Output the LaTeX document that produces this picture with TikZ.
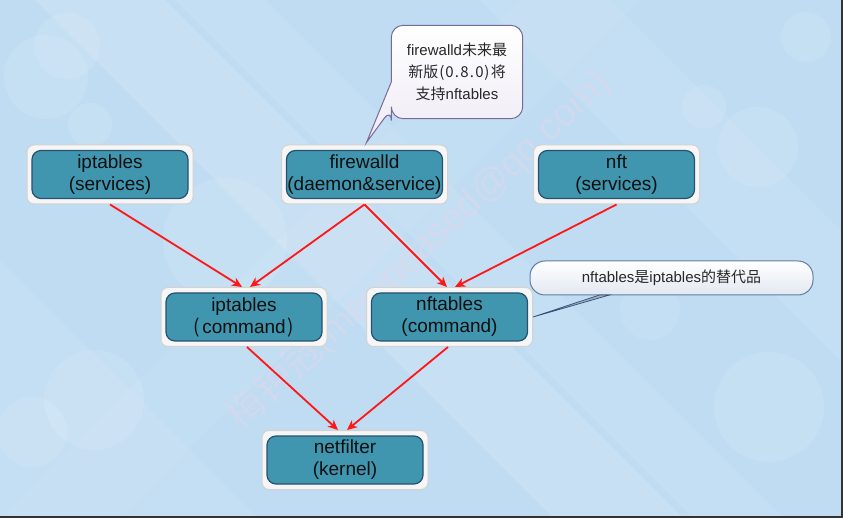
\documentclass[tikz,border=0pt]{standalone}
\usepackage{fontspec}
\setmainfont{Liberation Sans}
\newfontfamily\cjk{Noto Sans CJK SC}
\usetikzlibrary{arrows.meta}
\definecolor{bgblue}{RGB}{191,220,242}
\definecolor{tealfill}{RGB}{64,150,175}
\definecolor{tealline}{RGB}{42,80,112}
\definecolor{framefill}{RGB}{246,246,246}
\definecolor{frameline}{RGB}{210,210,210}
\definecolor{arrred}{RGB}{255,22,22}
\definecolor{notelineA}{RGB}{122,106,152}
\definecolor{notefillA}{RGB}{238,234,245}
\definecolor{notelineB}{RGB}{98,126,162}
\definecolor{notefillB}{RGB}{226,232,241}
\definecolor{ptrB}{RGB}{48,78,120}
\definecolor{wmark}{RGB}{240,212,230}
\definecolor{boxtext}{RGB}{15,15,15}
\definecolor{notetext}{RGB}{40,40,40}
\newcommand\hw[1]{\makebox[0.5em]{#1}}
\begin{document}
\begin{tikzpicture}[x=1pt,y=-1pt,
  frame/.style={draw=frameline, fill=framefill, line width=1pt, rounded corners=7pt,
    minimum width=166pt, minimum height=59pt, inner sep=0pt},
  box/.style={draw=tealline, fill=tealfill, line width=1.2pt, rounded corners=9pt,
    minimum width=156pt, minimum height=48pt, inner sep=0pt, align=center,
    font=\fontsize{19}{22}\selectfont, text=boxtext},
  arr/.style={draw=arrred, line width=1.8pt, -{Stealth[length=10pt,width=9pt,inset=3pt]}},
  notetxt/.style={align=center, inner sep=0pt, text=notetext,
    font=\fontsize{15}{22}\selectfont}
]
\useasboundingbox (0,0) rectangle (843,518);
% background
\fill[bgblue] (0,0) rectangle (843,518);
\begin{scope}[white]
  \fill[opacity=0.14] (35,0) -- (165,0) -- (683,518) -- (553,518) -- cycle;
  \fill[opacity=0.08] (175,0) -- (265,0) -- (783,518) -- (693,518) -- cycle;
  \fill[opacity=0.08] (480,0) -- (610,0) -- (843,233) -- (843,363) -- cycle;
  \fill[opacity=0.08] (0,260) -- (0,518) -- (258,518) -- cycle;
  \fill[opacity=0.06] (0,518) -- (120,518) -- (640,0) -- (520,0) -- cycle;
  \fill[opacity=0.10] (67,46) circle (33);
  \fill[opacity=0.10] (46,77) circle (42);
  \fill[opacity=0.10] (90,125) circle (22);
  \fill[opacity=0.10] (225,240) circle (62);
  \fill[opacity=0.10] (806,37) circle (25);
  \fill[opacity=0.10] (758,147) circle (40);
  \fill[opacity=0.10] (704,107) circle (22);
  \fill[opacity=0.10] (94,400) circle (50);
  \fill[opacity=0.10] (32,432) circle (35);
  \fill[opacity=0.10] (769,407) circle (55);
  \fill[opacity=0.08] (650,310) circle (30);
\end{scope}
% watermark
\node[rotate=43, text=wmark, opacity=0.35, font=\fontsize{38}{38}\selectfont, inner sep=0pt]
  (wm) at (419,250) {{\cjk 梅钟冠}(meiypeased@qq.com)};
% frames
\node[frame] (ipsvF) at (110,174.5) {};
\node[frame] (fwF)   at (364.5,174.5) {};
\node[frame] (nftF)  at (616.5,174.5) {};
\node[frame] (ipcmdF) at (244,317) {};
\node[frame] (nfcmdF) at (449.5,317) {};
\node[frame] (nfF)   at (345,460) {};
% boxes
\node[box] (ipsv)  at (ipsvF)  {iptables\\(services)};
\node[box] (fw)    at (fwF)    {firewalld\\(daemon\&service)};
\node[box] (nft)   at (nftF)   {nft\\(services)};
\node[box] (ipcmd) at (ipcmdF) {iptables\\{\cjk(}\kern2pt command\kern2pt{\cjk)}};
\node[box] (nfcmd) at (nfcmdF) {nftables\\(command)};
\node[box] (nf)    at (nfF)    {netfilter\\(kernel)};
% arrows
\draw[arr] (ipsvF.south) -- ([xshift=-2pt]ipcmdF.north);
\draw[arr] (fwF.south) -- ([xshift=6pt]ipcmdF.north);
\draw[arr] (fwF.south) -- ([xshift=-2.5pt]nfcmdF.north);
\draw[arr] (nftF.south) -- ([xshift=5.5pt]nfcmdF.north);
\draw[arr] ([xshift=3pt]ipcmdF.south) -- ([xshift=-7pt]nfF.north);
\draw[arr] ([xshift=-1.5pt]nfcmdF.south) -- ([xshift=2pt]nfF.north);
% callout 1
\node[notetxt, minimum width=131pt, minimum height=93pt] (note1) at (457,72) {};
\path[draw=notelineA, line width=1pt, top color=white, bottom color=notefillA]
  ([yshift=-10pt]note1.west) [rounded corners=12pt] -- (note1.north west) -- (note1.north east)
  -- (note1.south east) -- (note1.south west) -- ([yshift=10pt]note1.south west)
  [sharp corners] -- ([xshift=2pt,yshift=2pt]fwF.north) -- cycle;
\node[notetxt] (note1txt) at (note1) {firewalld{\cjk 未来最}\\{\cjk 新版\hw(\hw0\hw.\hw8\hw.\hw0\hw)将}\\{\cjk 支持}nftables};
% callout 2
\node[draw=notelineB, line width=1pt, rounded corners=15pt, top color=white, bottom color=notefillB,
  minimum width=283pt, minimum height=34pt, inner sep=0pt, text=notetext,
  font=\fontsize{15}{18}\selectfont] (note2) at (671.5,278)
  {nftables{\cjk 是}iptables{\cjk 的替代品}};
\path[fill=ptrB!45!white, draw=ptrB, line width=0.7pt] (nfcmdF.east) -- ([xshift=-72pt,yshift=0.5pt]note2.south) -- ([xshift=-62pt,yshift=0.5pt]note2.south) -- cycle;
% border
\fill[black!80] (0,515.5) rectangle (843,518);
\fill[black!80] (841,0) rectangle (843,518);
\end{tikzpicture}
\end{document}
